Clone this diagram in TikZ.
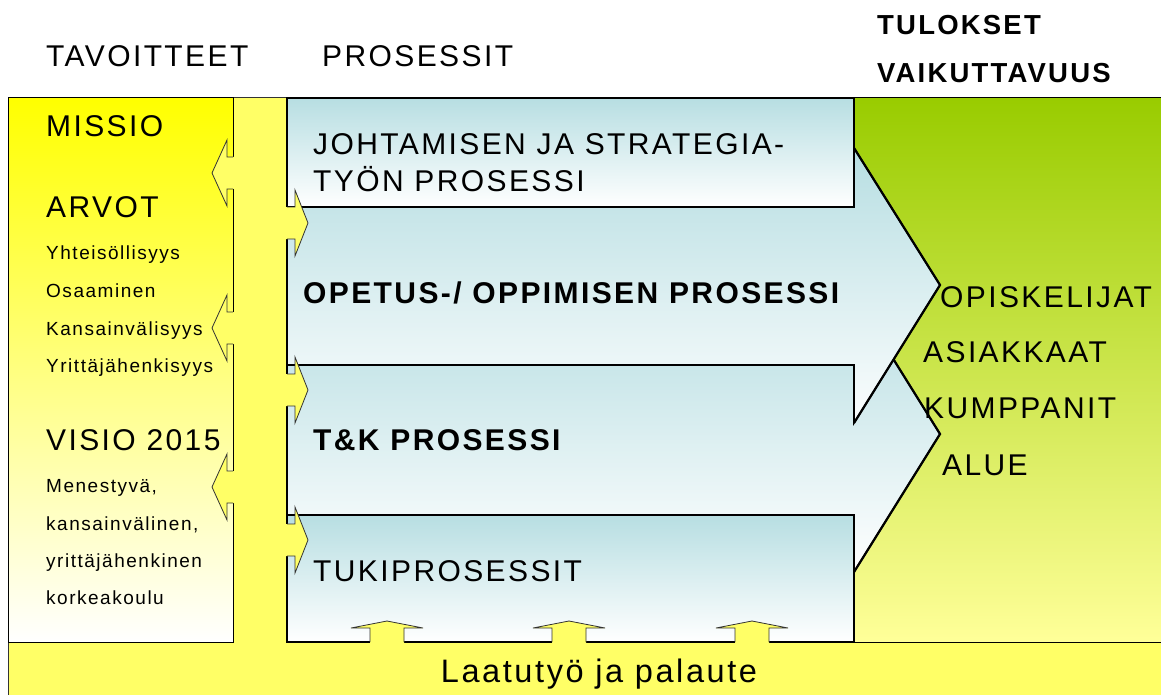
\documentclass[tikz,border=0pt]{standalone}
\usepackage{fontspec}
\setmainfont{Liberation Sans}[LetterSpace=8]
\usetikzlibrary{positioning}

\definecolor{bandyellow}{HTML}{FFFF66}
\definecolor{goalyellow}{HTML}{FFFF00}
\definecolor{procblue}{HTML}{B7DEE2}
\definecolor{resgreen}{HTML}{99CC00}
\definecolor{respale}{HTML}{FFFF99}

\begin{document}
\begin{tikzpicture}[x=1pt,y=-1pt,
  bigtxt/.style={font=\fontsize{30}{36}\selectfont,anchor=base west,inner sep=0pt},
  boldtxt/.style={font=\fontsize{30}{36}\selectfont\bfseries,anchor=base west,inner sep=0pt},
  headtxt/.style={font=\fontsize{27.5}{33}\selectfont\bfseries,anchor=base west,inner sep=0pt},
  smalltxt/.style={font=\fontsize{19}{23}\selectfont,anchor=base west,inner sep=0pt},
  procbox/.style={draw=black,line width=1.6pt,top color=procblue,bottom color=white},
  headline/.style={line width=2.2pt,line join=miter},
  yarrow/.style={draw=black!80,line width=0.8pt}]
\useasboundingbox (0,0) rectangle (1161,695);

% frame and yellow band
\draw[fill=bandyellow,draw=black!80,line width=1pt] (8,98) rectangle (1161,695);

% goals column
\draw[top color=goalyellow,bottom color=white,draw=black,line width=1pt] (8,98) rectangle (233,642);

% results column
\draw[top color=resgreen,bottom color=respale,draw=black,line width=1pt] (854,98) rectangle (1161,642);

% process boxes
\draw[procbox] (287,98) rectangle (854,207);
\draw[procbox] (287,515) rectangle (854,642);
\draw[procbox] (287,365) -- (854,365) -- (854,296) -- (940,434) -- (854,572) -- (854,515) -- (287,515) -- cycle;
\draw[headline] (854,296) -- (940,434) -- (854,572);
\draw[procbox,bottom color=white!95!procblue] (287,207) -- (854,207) -- (854,148) -- (940,285) -- (854,423) -- (854,365) -- (287,365) -- cycle;
\draw[headline] (854,148) -- (940,285) -- (854,423);

% small arrows from the band
\foreach \c in {173,328,487}{
  \fill[bandyellow] (234,{\c-16}) -- (227,{\c-16}) -- (227,{\c-33}) -- (212,\c) -- (227,{\c+33}) -- (227,{\c+16}) -- (234,{\c+16}) -- cycle;
  \draw[yarrow] (233,{\c-16}) -- (227,{\c-16}) -- (227,{\c-33}) -- (212,\c) -- (227,{\c+33}) -- (227,{\c+16}) -- (233,{\c+16});
}
\foreach \c in {223,390,540}{
  \fill[bandyellow] (285.5,{\c-16}) -- (295,{\c-16}) -- (295,{\c-33}) -- (308,\c) -- (295,{\c+33}) -- (295,{\c+16}) -- (285.5,{\c+16}) -- cycle;
  \draw[yarrow] (287,{\c-16}) -- (295,{\c-16}) -- (295,{\c-33}) -- (308,\c) -- (295,{\c+33}) -- (295,{\c+16}) -- (287,{\c+16});
}
\foreach \c in {387,569,752}{
  \fill[bandyellow] ({\c-17},643.5) -- ({\c-17},628) -- ({\c-36},628) -- (\c,621) -- ({\c+36},628) -- ({\c+17},628) -- ({\c+17},643.5) -- cycle;
  \draw[yarrow] ({\c-17},642) -- ({\c-17},628) -- ({\c-36},628) -- (\c,621) -- ({\c+36},628) -- ({\c+17},628) -- ({\c+17},642);
}

% column titles
\node[bigtxt] (tavoitteet) at (46,67) {TAVOITTEET};
\node[bigtxt] (prosessit) at (322,67) {PROSESSIT};
\node[headtxt] (tulokset) at (877,35) {TULOKSET};
\node[headtxt] (vaikuttavuus) at (877,83) {VAIKUTTAVUUS};

% goals
\node[bigtxt] (missio) at (46,137) {MISSIO};
\node[bigtxt] (arvot) at (46,218) {ARVOT};
\node[smalltxt] (arvo1) at (46,259) {Yhteisöllisyys};
\node[smalltxt] (arvo2) at (46,297) {Osaaminen};
\node[smalltxt] (arvo3) at (46,335) {Kansainvälisyys};
\node[smalltxt] (arvo4) at (46,372) {Yrittäjähenkisyys};
\node[bigtxt] (visio) at (46,450) {VISIO 2015};
\node[smalltxt] (visio1) at (46,492) {Menestyvä,};
\node[smalltxt] (visio2) at (46,530) {kansainvälinen,};
\node[smalltxt] (visio3) at (46,567) {yrittäjähenkinen};
\node[smalltxt] (visio4) at (46,604) {korkeakoulu};

% processes
\node[bigtxt] (johto1) at (313,155) {JOHTAMISEN JA STRATEGIA-};
\node[bigtxt] (johto2) at (313,192) {TYÖN PROSESSI};
\node[boldtxt] (opetus) at (303,303) {OPETUS-/ OPPIMISEN PROSESSI};
\node[boldtxt] (tk) at (313,450) {T\&K PROSESSI};
\node[bigtxt] (tuki) at (313,581) {TUKIPROSESSIT};

% results
\node[bigtxt] (opiskelijat) at (940,307) {OPISKELIJAT};
\node[bigtxt] (asiakkaat) at (923,362) {ASIAKKAAT};
\node[bigtxt] (kumppanit) at (924,418) {KUMPPANIT};
\node[bigtxt] (alue) at (942,475) {ALUE};

\node[bigtxt,anchor=base,font=\fontsize{32.5}{38}\selectfont] (laatu) at (599,682) {Laatutyö ja palaute};
\end{tikzpicture}
\end{document}
